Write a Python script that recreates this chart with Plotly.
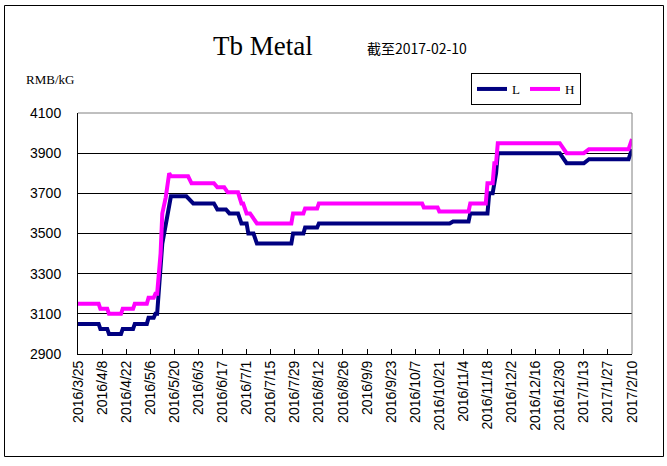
import plotly.graph_objects as go

# ---- data ----
l_dates = ["2016-03-25", "2016-04-06", "2016-04-07", "2016-04-11", "2016-04-12", "2016-04-19",
           "2016-04-20", "2016-04-26", "2016-04-27", "2016-05-04", "2016-05-05", "2016-05-08",
           "2016-05-09", "2016-05-10", "2016-05-13", "2016-05-15", "2016-05-17", "2016-05-18",
           "2016-05-27", "2016-05-31", "2016-06-12", "2016-06-14", "2016-06-19", "2016-06-21",
           "2016-06-26", "2016-06-28", "2016-07-01", "2016-07-02", "2016-07-05", "2016-07-07",
           "2016-07-27", "2016-07-28", "2016-08-03", "2016-08-04", "2016-08-11", "2016-08-12",
           "2016-10-27", "2016-10-29", "2016-11-07", "2016-11-08", "2016-11-18", "2016-11-19",
           "2016-11-21", "2016-11-23", "2016-11-24", "2016-12-30", "2017-01-03", "2017-01-13",
           "2017-01-16", "2017-02-08", "2017-02-10"]
l_values = [3050, 3050, 3025, 3025, 3000, 3000,
            3025, 3025, 3050, 3050, 3080, 3080,
            3100, 3100, 3450, 3550, 3630, 3685,
            3685, 3650, 3650, 3620, 3620, 3600,
            3600, 3550, 3550, 3500, 3500, 3450,
            3450, 3500, 3500, 3530, 3530, 3550,
            3550, 3560, 3560, 3600, 3600, 3700,
            3700, 3800, 3900, 3900, 3850, 3850,
            3870, 3870, 3920]

h_dates = ["2016-03-25", "2016-04-06", "2016-04-07", "2016-04-11", "2016-04-12", "2016-04-19",
           "2016-04-20", "2016-04-26", "2016-04-27", "2016-05-04", "2016-05-05", "2016-05-08",
           "2016-05-09", "2016-05-10", "2016-05-12", "2016-05-13", "2016-05-15", "2016-05-17",
           "2016-05-18", "2016-05-28", "2016-05-30", "2016-06-12", "2016-06-14", "2016-06-18",
           "2016-06-20", "2016-06-26", "2016-06-28", "2016-06-29", "2016-07-01", "2016-07-03",
           "2016-07-07", "2016-07-27", "2016-07-28", "2016-08-03", "2016-08-04", "2016-08-11",
           "2016-08-12", "2016-10-11", "2016-10-12", "2016-10-20", "2016-10-21", "2016-11-07",
           "2016-11-08", "2016-11-17", "2016-11-18", "2016-11-21", "2016-11-22", "2016-11-23",
           "2016-11-24", "2016-12-30", "2017-01-03", "2017-01-13", "2017-01-16", "2017-02-08",
           "2017-02-10"]
h_values = [3150, 3150, 3125, 3125, 3100, 3100,
            3125, 3125, 3150, 3150, 3180, 3180,
            3200, 3200, 3400, 3600, 3680, 3800,
            3785, 3785, 3750, 3750, 3730, 3730,
            3705, 3705, 3650, 3650, 3600, 3600,
            3550, 3550, 3600, 3600, 3625, 3625,
            3650, 3650, 3630, 3630, 3610, 3610,
            3650, 3650, 3750, 3750, 3850, 3850,
            3950, 3950, 3900, 3900, 3920, 3920,
            3970]

tick_dates = ["2016-03-25", "2016-04-08", "2016-04-22", "2016-05-06", "2016-05-20", "2016-06-03",
              "2016-06-17", "2016-07-01", "2016-07-15", "2016-07-29", "2016-08-12", "2016-08-26",
              "2016-09-09", "2016-09-23", "2016-10-07", "2016-10-21", "2016-11-04", "2016-11-18",
              "2016-12-02", "2016-12-16", "2016-12-30", "2017-01-13", "2017-01-27", "2017-02-10"]
tick_labels = ["2016/3/25", "2016/4/8", "2016/4/22", "2016/5/6", "2016/5/20", "2016/6/3",
               "2016/6/17", "2016/7/1", "2016/7/15", "2016/7/29", "2016/8/12", "2016/8/26",
               "2016/9/9", "2016/9/23", "2016/10/7", "2016/10/21", "2016/11/4", "2016/11/18",
               "2016/12/2", "2016/12/16", "2016/12/30", "2017/1/13", "2017/1/27", "2017/2/10"]
y_ticks = [2900, 3100, 3300, 3500, 3700, 3900, 4100]

title_text = "Tb Metal"
subtitle_text = "截至2017-02-10"
unit_text = "RMB/kG"

# ---- figure ----
W, H = 667, 466
L, R, T, B = 78, 632, 113, 354  # plot area in pixels


def px(x):
    return (x - L) / (R - L)


def py(y):
    return (B - y) / (B - T)


fig = go.Figure()
fig.add_trace(go.Scatter(x=l_dates, y=l_values, name="L", mode="lines",
                         line=dict(color="#000080", width=4)))
fig.add_trace(go.Scatter(x=h_dates, y=h_values, name="H", mode="lines",
                         line=dict(color="#FF00FF", width=4)))

fig.update_layout(
    width=W, height=H, autosize=False,
    margin=dict(l=L, r=W - R, t=T, b=H - B, pad=0),
    paper_bgcolor="white", plot_bgcolor="white",
    font=dict(family="Liberation Sans", size=13, color="black"),
    showlegend=True,
    legend=dict(orientation="h", x=px(471), y=py(73), xanchor="left", yanchor="top",
                bordercolor="black", borderwidth=1, bgcolor="white",
                font=dict(family="Liberation Serif", size=13), itemwidth=30,
                tracegroupgap=0),
    xaxis=dict(type="date", range=["2016-03-25", "2017-02-10"],
               tickmode="array", tickvals=tick_dates, ticktext=tick_labels,
               tickangle=-90, ticks="inside", ticklen=5, tickcolor="black",
               showline=True, linecolor="black", linewidth=1,
               showgrid=False, zeroline=False,
               tickfont=dict(family="Liberation Sans", size=14)),
    yaxis=dict(range=[2900, 4100], tickmode="array", tickvals=y_ticks,
               showline=True, linecolor="black", linewidth=1,
               showgrid=True, gridcolor="black", gridwidth=1,
               zeroline=False, ticks="", ticklabelstandoff=13,
               tickfont=dict(family="Liberation Sans", size=14)),
    shapes=[
        # plot-area border (top and right, grey)
        dict(type="line", xref="paper", yref="paper", x0=0, x1=1, y0=1, y1=1,
             line=dict(color="#808080", width=1), layer="above"),
        dict(type="line", xref="paper", yref="paper", x0=1, x1=1, y0=0, y1=1,
             line=dict(color="#808080", width=1), layer="above"),
        # chart-area frame
        dict(type="rect", xref="paper", yref="paper",
             x0=px(4.5), x1=px(663.5), y0=py(456.5), y1=py(5.5),
             line=dict(color="black", width=1), layer="below"),
    ],
    annotations=[
        dict(text=title_text, xref="paper", yref="paper", x=px(263), y=py(46),
             xanchor="center", yanchor="middle", showarrow=False,
             font=dict(family="Liberation Serif", size=27)),
        dict(text=subtitle_text, xref="paper", yref="paper", x=px(417), y=py(48),
             xanchor="center", yanchor="middle", showarrow=False,
             font=dict(family="Noto Sans CJK SC", size=14)),
        dict(text=unit_text, xref="paper", yref="paper", x=px(50), y=py(79),
             xanchor="center", yanchor="middle", showarrow=False,
             font=dict(family="Liberation Serif", size=13)),
    ],
)

fig.write_html("out.html", config={"displayModeBar": False},
               post_script="document.body.style.margin='0';document.body.style.padding='0';")
